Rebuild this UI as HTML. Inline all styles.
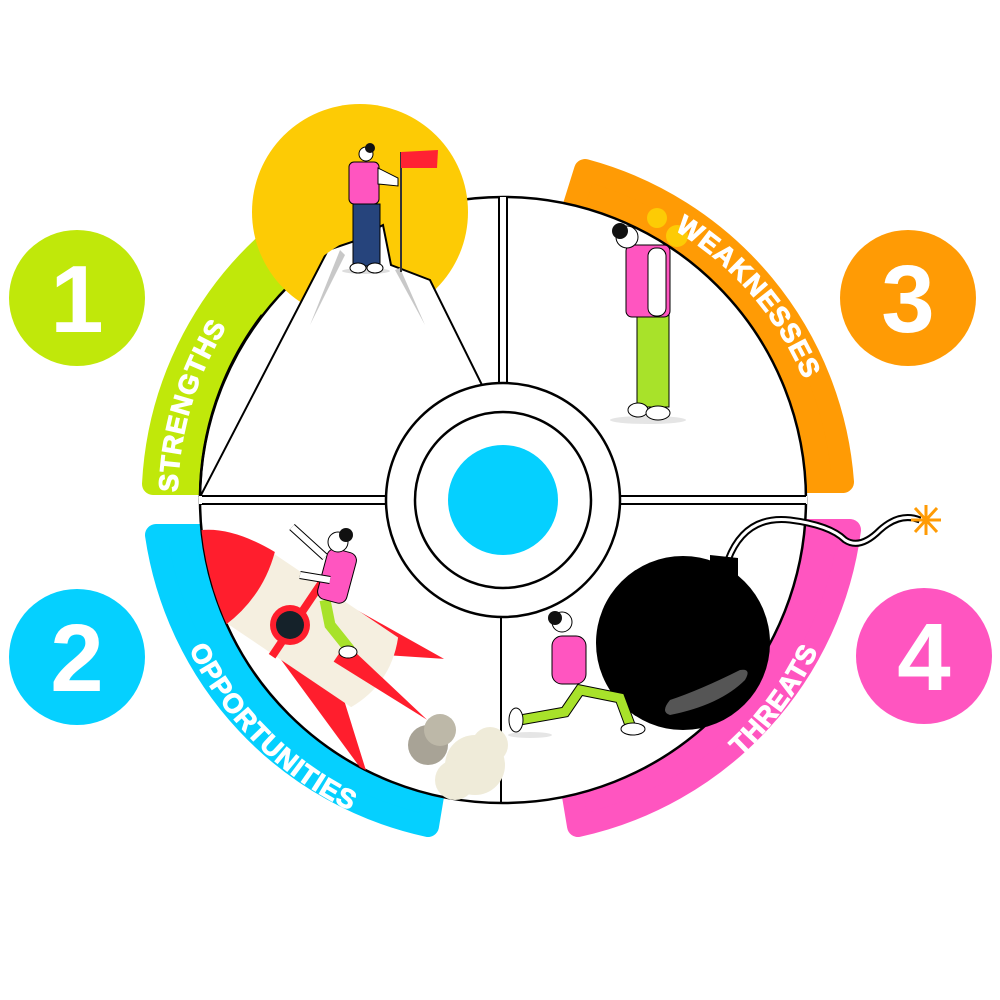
<!DOCTYPE html>
<html><head><meta charset="utf-8"><style>html,body{margin:0;padding:0;background:#fff}svg{display:block}</style></head>
<body>
<svg width="1000" height="1000" viewBox="0 0 1000 1000" xmlns="http://www.w3.org/2000/svg" font-family="Liberation Sans, sans-serif">
<defs>
<path id="pS" d="M 184 563 A 327 327 0 0 1 271 270"/>
<path id="pW" d="M 640 212 A 318 318 0 0 1 817 417"/>
<path id="pO" d="M 170 600 A 345 345 0 0 0 400 830"/>
<path id="pT" d="M 690 795 A 345 345 0 0 0 840 590"/>
<clipPath id="cUL"><path d="M503 496 L200 496 A303 303 0 0 1 499 197 Z"/></clipPath>
<clipPath id="cLL"><path d="M499 504 L200 504 A303 303 0 0 0 499 803 Z"/></clipPath>
</defs>
<!-- bands -->
<g stroke-linejoin="round" stroke-width="22">
<path d="M153 484 A350 350 0 0 1 290 224 L318 264 A300 300 0 0 0 203 484 Z" fill="#c0e80a" stroke="#c0e80a"/>
<path d="M585 170 A350 350 0 0 1 843 482 L793 482 A300 300 0 0 0 570 218 Z" fill="#ff9b05" stroke="#ff9b05"/>
<path d="M156 535 A350 350 0 0 0 428 826 L436 778 A300 300 0 0 1 206 535 Z" fill="#05d0ff" stroke="#05d0ff"/>
<path d="M578 826 A350 350 0 0 0 850 530 L800 530 A300 300 0 0 1 570 778 Z" fill="#ff55c0" stroke="#ff55c0"/>
</g>
<!-- main circle -->
<circle cx="503" cy="500" r="303" fill="#fff" stroke="#000" stroke-width="2.5"/>
<!-- yellow circle on top -->
<circle cx="360" cy="212" r="108" fill="#fdcb05"/>
<!-- mountain -->
<g clip-path="url(#cUL)">
<path d="M200 497 L328 250 L352 242 L383 225 L391 265 L430 280 L482 385 L482 497 Z" fill="#fff" stroke="#000" stroke-width="2"/>
<path d="M340 250 L310 325 L345 255 Z" fill="#c8c8c8"/>
<path d="M395 270 L425 325 L400 268 Z" fill="#c8c8c8"/>
</g>
<path d="M200 497 A303 303 0 0 1 262 315" fill="none" stroke="#000" stroke-width="2.5"/>
<!-- gaps -->
<rect x="199" y="496" width="608" height="8" fill="#fff"/>
<line x1="200" y1="496" x2="806" y2="496" stroke="#000" stroke-width="2"/>
<line x1="200" y1="504" x2="806" y2="504" stroke="#000" stroke-width="2"/>
<rect x="499" y="197" width="8" height="300" fill="#fff"/>
<line x1="499" y1="197" x2="499" y2="496" stroke="#000" stroke-width="2"/>
<line x1="507" y1="197" x2="507" y2="496" stroke="#000" stroke-width="2"/>
<line x1="501" y1="504" x2="501" y2="803" stroke="#000" stroke-width="2"/>
<rect x="199" y="496" width="3" height="8" fill="#fff"/>
<!-- ring -->
<circle cx="503" cy="500" r="117" fill="#fff" stroke="#000" stroke-width="2.5"/>
<circle cx="503" cy="500" r="88" fill="#fff" stroke="#000" stroke-width="2.5"/>
<circle cx="503" cy="500" r="55" fill="#05d0ff"/>
<!-- strength person -->
<line x1="401" y1="152" x2="401" y2="272" stroke="#333" stroke-width="2"/>
<path d="M401 152 L438 150 L437 168 L401 168 Z" fill="#ff2233"/>
<ellipse cx="366" cy="271" rx="24" ry="3" fill="#ddd"/>
<rect x="353" y="204" width="27" height="62" fill="#26447c" stroke="#000" stroke-width="1"/>
<rect x="349" y="162" width="30" height="42" rx="5" fill="#ff55c0" stroke="#000" stroke-width="1"/>
<path d="M378 168 L398 178 L398 186 L378 184 Z" fill="#fff" stroke="#000" stroke-width="1"/>
<circle cx="366" cy="154" r="7" fill="#fff" stroke="#000"/>
<circle cx="370" cy="148" r="5" fill="#111"/>
<ellipse cx="358" cy="268" rx="8" ry="5" fill="#fff" stroke="#000"/>
<ellipse cx="375" cy="268" rx="8" ry="5" fill="#fff" stroke="#000"/>
<!-- weakness person -->
<ellipse cx="648" cy="420" rx="38" ry="4" fill="#e5e5e5"/>
<circle cx="657" cy="218" r="10" fill="#fdcb05"/><circle cx="677" cy="236" r="11" fill="#fdcb05"/>
<rect x="637" y="315" width="32" height="92" fill="#a8e22a" stroke="#000"/>
<rect x="626" y="245" width="44" height="72" rx="6" fill="#ff55c0" stroke="#000"/>
<rect x="648" y="248" width="18" height="68" rx="8" fill="#fff" stroke="#000"/>
<circle cx="627" cy="237" r="11" fill="#fff" stroke="#000"/>
<circle cx="620" cy="231" r="8" fill="#111"/>
<ellipse cx="638" cy="410" rx="10" ry="7" fill="#fff" stroke="#000"/>
<ellipse cx="658" cy="413" rx="12" ry="7" fill="#fff" stroke="#000"/>
<!-- rocket -->
<g clip-path="url(#cLL)">
<g transform="translate(300,622) rotate(34)">
<path d="M20 -40 L140 -50 L80 -15 Z" fill="#ff1e2d"/>
<path d="M0 40 L145 92 L80 40 Z" fill="#ff1e2d"/>
<path d="M-60 -42 L90 -42 Q110 0 90 42 L-60 42 Z" fill="#f5efe0"/>
<path d="M-60 -44 Q-130 -40 -150 0 Q-130 40 -60 44 Q-45 0 -60 -44 Z" fill="#ff1e2d"/>
<rect x="-8" y="-44" width="8" height="88" fill="#ff1e2d"/>
<path d="M50 -8 L160 10 L50 14 Z" fill="#ff1e2d"/>
</g>
</g>
<circle cx="290" cy="625" r="20" fill="#ff1e2d"/>
<circle cx="290" cy="625" r="14" fill="#15222a"/>
<!-- rocket person -->
<path d="M325 600 L330 625 L350 650" stroke="#a8e22a" stroke-width="11" fill="none"/>
<rect x="322" y="550" width="30" height="52" rx="8" fill="#ff55c0" stroke="#000" transform="rotate(15 337 576)"/>
<path d="M292 527 L325 557" stroke="#000" stroke-width="8"/><path d="M292 527 L325 557" stroke="#fff" stroke-width="6"/>
<path d="M300 575 L330 580" stroke="#000" stroke-width="8"/><path d="M300 575 L330 580" stroke="#fff" stroke-width="6"/>
<circle cx="338" cy="542" r="10" fill="#fff" stroke="#000"/>
<circle cx="346" cy="535" r="7" fill="#111"/>
<ellipse cx="348" cy="652" rx="9" ry="6" fill="#fff" stroke="#000"/>
<!-- smoke -->
<circle cx="428" cy="745" r="20" fill="#a8a396"/>
<circle cx="440" cy="730" r="16" fill="#bdb8a8"/>
<circle cx="475" cy="765" r="30" fill="#efebd9"/>
<circle cx="455" cy="780" r="20" fill="#efebd9"/>
<circle cx="490" cy="745" r="18" fill="#efebd9"/>
<!-- bomb -->
<path d="M728 560 Q745 515 790 520 Q830 525 845 540 Q860 550 880 530 Q900 512 920 520" stroke="#000" stroke-width="7" fill="none"/>
<path d="M728 560 Q745 515 790 520 Q830 525 845 540 Q860 550 880 530 Q900 512 920 520" stroke="#fff" stroke-width="3" fill="none"/>
<g stroke="#ff9b05" stroke-width="3"><line x1="915" y1="508" x2="937" y2="532"/><line x1="937" y1="508" x2="915" y2="532"/><line x1="926" y1="505" x2="926" y2="535"/><line x1="911" y1="520" x2="941" y2="520"/></g>
<path d="M710 555 L738 558 L738 580 L710 575 Z" fill="#000"/>
<circle cx="683" cy="643" r="87" fill="#000"/>
<path d="M670 715 Q720 705 745 680 Q752 668 740 670 Q700 690 670 700 Q660 712 670 715 Z" fill="#555"/>
<!-- pusher -->
<ellipse cx="530" cy="735" rx="22" ry="3" fill="#e5e5e5"/>
<path d="M520 720 L565 712 L580 690 L620 698 L630 725" stroke="#000" stroke-width="11" fill="none"/>
<path d="M520 720 L565 712 L580 690 L620 698 L630 725" stroke="#a8e22a" stroke-width="9" fill="none"/>
<rect x="552" y="636" width="34" height="48" rx="10" fill="#ff55c0" stroke="#000"/>
<circle cx="562" cy="622" r="10" fill="#fff" stroke="#000"/>
<circle cx="555" cy="618" r="7" fill="#111"/>
<ellipse cx="516" cy="720" rx="7" ry="12" fill="#fff" stroke="#000"/>
<ellipse cx="633" cy="729" rx="12" ry="6" fill="#fff" stroke="#000"/>
<!-- band text -->
<g fill="#fff" font-weight="bold" font-size="27" letter-spacing="1" stroke="#fff" stroke-width="1">
<text><textPath href="#pS" startOffset="50%" text-anchor="middle">STRENGTHS</textPath></text>
<text><textPath href="#pW" startOffset="50%" text-anchor="middle">WEAKNESSES</textPath></text>
<text><textPath href="#pO" startOffset="50%" text-anchor="middle">OPPORTUNITIES</textPath></text>
<text><textPath href="#pT" startOffset="50%" text-anchor="middle">THREATS</textPath></text>
</g>
<!-- number circles -->
<circle cx="77" cy="298" r="68" fill="#c0e80a"/>
<circle cx="77" cy="657" r="68" fill="#05d0ff"/>
<circle cx="908" cy="298" r="68" fill="#ff9b05"/>
<circle cx="924" cy="656" r="68" fill="#ff55c0"/>
<g fill="#fff" font-weight="bold" font-size="96" text-anchor="middle">
<text x="77" y="332">1</text><text x="77" y="691">2</text>
<text x="908" y="332">3</text><text x="924" y="690">4</text>
</g>
</svg>
</body></html>
